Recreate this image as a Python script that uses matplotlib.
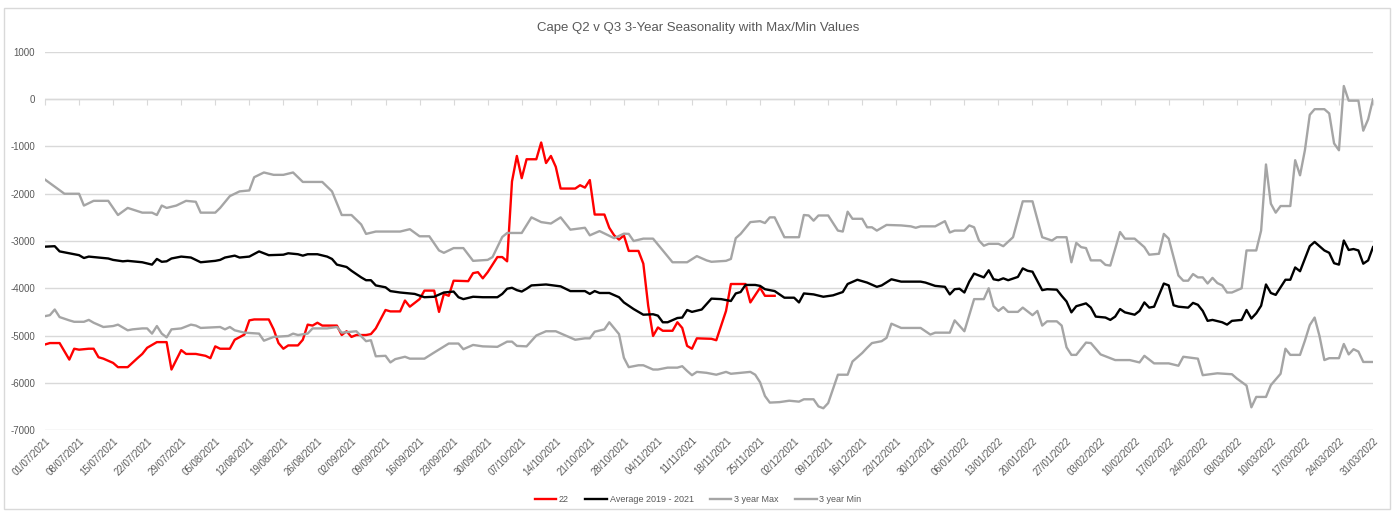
import numpy as np
import matplotlib
matplotlib.use("Agg")
import matplotlib.pyplot as plt
import matplotlib.dates as mdates
from matplotlib.patches import Rectangle

plt.rcParams['font.family'] = ['Liberation Sans', 'DejaVu Sans']
plt.rcParams['axes.unicode_minus'] = False

start = np.datetime64('2021-07-01')
end = np.datetime64('2022-03-31')

# values, x given as days after 01/07/2021
red_days = [0, 1, 3, 5, 6, 7, 9, 10, 11, 12, 14, 15, 17, 19, 20, 21, 23, 25, 26, 28,
            29, 31, 33, 34, 35, 36, 38, 39, 41, 42, 43, 46, 47, 48, 49, 50, 52, 53, 54, 55,
            56, 57, 60, 61, 62, 63, 64, 66, 67, 68, 70, 71, 73, 74, 75, 77, 78, 80, 81, 82,
            83, 84, 87, 88, 89, 90, 91, 93, 94, 95, 96, 97, 98, 99, 101, 102, 103, 104, 105, 106,
            109, 110, 111, 112, 113, 115, 116, 117, 118, 119, 120, 122, 123, 124, 125, 126, 127, 129, 130, 131,
            132, 133, 134, 137, 138, 140, 141, 144, 145, 147, 148, 150]
red_vals = [-5190, -5160, -5160, -5510, -5280, -5300, -5280, -5280, -5460, -5490, -5580, -5670, -5670, -5480, -5390, -5260, -5140, -5140, -5720, -5310,
            -5390, -5390, -5430, -5480, -5230, -5280, -5280, -5090, -4980, -4680, -4660, -4660, -4870, -5160, -5280, -5210, -5210, -5090, -4770, -4790,
            -4730, -4790, -4790, -4990, -4910, -5030, -4990, -4990, -4970, -4850, -4460, -4490, -4490, -4260, -4390, -4230, -4050, -4050, -4500, -4120,
            -4160, -3840, -3850, -3680, -3660, -3790, -3660, -3340, -3340, -3430, -1740, -1200, -1670, -1270, -1270, -915, -1350, -1200, -1430, -1890,
            -1890, -1820, -1870, -1710, -2440, -2440, -2720, -2880, -2970, -2880, -3210, -3210, -3480, -4370, -5010, -4830, -4900, -4900, -4720, -4840,
            -5220, -5280, -5060, -5070, -5100, -4480, -3910, -3910, -4300, -3990, -4160, -4160]

avg_days = [0, 2, 3, 5, 7, 8, 9, 13, 14, 16, 17, 20, 22, 23, 24, 25, 26, 28, 30, 32,
            35, 36, 37, 39, 40, 42, 44, 46, 49, 50, 52, 53, 54, 56, 58, 59, 60, 62, 63, 65,
            66, 67, 68, 70, 71, 73, 76, 78, 80, 82, 84, 85, 86, 88, 90, 93, 94, 95, 96, 97,
            98, 99, 100, 103, 106, 108, 111, 112, 113, 114, 116, 118, 119, 121, 123, 125, 126, 127, 128, 130,
            131, 132, 133, 135, 137, 139, 141, 142, 143, 144, 146, 147, 148, 150, 152, 154, 155, 156, 158, 160,
            162, 164, 165, 167, 169, 171, 172, 174, 176, 180, 181, 183, 185, 186, 187, 188, 189, 190, 191, 193,
            194, 195, 196, 197, 198, 200, 201, 202, 203, 205, 206, 208, 209, 210, 211, 212, 214, 215, 216, 218,
            219, 220, 221, 222, 224, 225, 226, 227, 228, 230, 231, 232, 233, 235, 236, 237, 238, 239, 240, 242,
            243, 244, 246, 247, 248, 249, 250, 251, 252, 253, 255, 256, 257, 258, 260, 261, 263, 264, 265, 266,
            267, 268, 269, 270, 271, 272, 273]
avg_vals = [-3120, -3110, -3220, -3260, -3300, -3360, -3330, -3370, -3400, -3430, -3420, -3450, -3500, -3380, -3440, -3430, -3370, -3330, -3350, -3450,
            -3420, -3400, -3350, -3310, -3350, -3330, -3220, -3300, -3290, -3260, -3280, -3310, -3280, -3280, -3330, -3380, -3500, -3550, -3630, -3770,
            -3830, -3830, -3940, -3980, -4060, -4090, -4120, -4190, -4180, -4090, -4070, -4190, -4230, -4180, -4190, -4190, -4120, -4010, -3990, -4040,
            -4070, -4010, -3940, -3920, -3960, -4060, -4060, -4120, -4060, -4100, -4100, -4190, -4300, -4440, -4560, -4550, -4580, -4720, -4720, -4630,
            -4620, -4460, -4500, -4450, -4220, -4230, -4270, -4110, -4080, -3930, -3930, -3950, -4020, -4060, -4200, -4200, -4300, -4110, -4130, -4180,
            -4150, -4080, -3910, -3820, -3880, -3970, -3940, -3810, -3860, -3860, -3880, -3950, -3970, -4130, -4020, -4010, -4090, -3860, -3690, -3770,
            -3620, -3810, -3830, -3790, -3830, -3760, -3580, -3630, -3650, -4040, -4020, -4030, -4160, -4280, -4510, -4380, -4320, -4410, -4600, -4620,
            -4670, -4600, -4440, -4510, -4560, -4480, -4300, -4410, -4390, -3900, -3940, -4360, -4390, -4410, -4310, -4350, -4480, -4690, -4670, -4720,
            -4770, -4690, -4670, -4460, -4640, -4530, -4370, -3920, -4100, -4140, -3820, -3820, -3560, -3640, -3110, -3020, -3200, -3250, -3470, -3500,
            -2990, -3190, -3170, -3200, -3480, -3410, -3130]

max_days = [0, 2, 4, 7, 8, 10, 13, 15, 17, 20, 22, 23, 24, 25, 27, 29, 31, 32, 35, 36,
            38, 40, 42, 43, 45, 47, 49, 51, 53, 57, 59, 61, 63, 65, 66, 68, 73, 75, 77, 79,
            81, 82, 84, 86, 88, 91, 92, 94, 95, 98, 100, 102, 104, 106, 108, 111, 112, 114, 117, 119,
            120, 121, 123, 125, 129, 132, 134, 136, 137, 140, 141, 142, 143, 145, 147, 148, 149, 150, 152, 155,
            156, 157, 158, 159, 161, 163, 164, 165, 166, 168, 169, 170, 171, 173, 176, 178, 179, 180, 183, 185,
            186, 187, 189, 190, 191, 192, 193, 194, 196, 197, 199, 201, 203, 205, 207, 208, 210, 211, 212, 213,
            214, 215, 217, 218, 219, 221, 222, 224, 226, 227, 229, 230, 231, 233, 234, 235, 236, 237, 238, 239,
            240, 241, 242, 243, 244, 246, 247, 249, 250, 251, 252, 253, 254, 256, 257, 258, 259, 260, 261, 263,
            264, 265, 266, 267, 268, 270, 271, 272, 273]
max_vals = [-1700, -1850, -2000, -2000, -2250, -2150, -2150, -2450, -2300, -2400, -2400, -2450, -2250, -2300, -2250, -2150, -2170, -2400, -2400, -2300,
            -2050, -1950, -1930, -1650, -1550, -1600, -1600, -1550, -1750, -1750, -1950, -2450, -2450, -2650, -2850, -2800, -2800, -2750, -2900, -2900,
            -3200, -3250, -3150, -3150, -3420, -3400, -3340, -2915, -2830, -2830, -2500, -2600, -2630, -2500, -2760, -2720, -2880, -2790, -2940, -2845,
            -2850, -3000, -2950, -2950, -3450, -3450, -3320, -3410, -3440, -3420, -3380, -2940, -2850, -2600, -2580, -2620, -2500, -2500, -2920, -2920,
            -2450, -2460, -2570, -2460, -2460, -2780, -2800, -2380, -2530, -2530, -2710, -2710, -2780, -2660, -2670, -2690, -2720, -2690, -2690, -2580,
            -2820, -2780, -2780, -2670, -2710, -2990, -3100, -3060, -3060, -3110, -2920, -2160, -2160, -2920, -2990, -2920, -2920, -3450, -3040, -3130,
            -3150, -3410, -3410, -3505, -3520, -2810, -2950, -2950, -3130, -3290, -3270, -2850, -2950, -3730, -3840, -3840, -3700, -3770, -3770, -3900,
            -3780, -3890, -3940, -4090, -4090, -4000, -3200, -3200, -2780, -1380, -2210, -2400, -2260, -2260, -1290, -1610, -1080, -330, -210, -210,
            -300, -935, -1080, 280, -30, -30, -665, -425, 0]

min_days = [0, 1, 2, 3, 5, 6, 8, 9, 10, 12, 14, 15, 17, 18, 20, 21, 22, 23, 24, 25,
            26, 28, 30, 31, 32, 36, 37, 38, 39, 41, 44, 45, 47, 50, 51, 52, 54, 55, 58, 60,
            61, 64, 66, 67, 68, 70, 71, 72, 74, 75, 78, 80, 83, 85, 86, 88, 90, 93, 95, 96,
            97, 99, 101, 103, 105, 107, 109, 111, 112, 113, 115, 116, 118, 119, 120, 122, 123, 125, 126, 128,
            130, 131, 132, 133, 134, 136, 138, 140, 141, 145, 146, 147, 148, 149, 151, 153, 155, 156, 158, 159,
            160, 161, 163, 165, 166, 168, 169, 170, 172, 173, 174, 176, 180, 182, 183, 186, 187, 189, 191, 193,
            194, 195, 196, 197, 198, 200, 201, 203, 204, 205, 206, 208, 209, 210, 211, 212, 214, 215, 217, 220,
            223, 225, 226, 228, 231, 233, 234, 237, 238, 241, 244, 245, 247, 248, 249, 251, 252, 254, 255, 256,
            258, 259, 260, 261, 262, 263, 264, 266, 267, 268, 269, 270, 271, 273]
min_vals = [-4590, -4570, -4450, -4610, -4680, -4710, -4710, -4670, -4730, -4820, -4800, -4770, -4890, -4870, -4850, -4850, -4960, -4800, -4960, -5040,
            -4870, -4850, -4770, -4790, -4840, -4820, -4870, -4820, -4890, -4940, -4960, -5110, -5030, -5010, -4960, -4990, -4960, -4850, -4850, -4820,
            -4940, -4910, -5120, -5100, -5440, -5430, -5570, -5500, -5450, -5490, -5490, -5360, -5170, -5170, -5290, -5200, -5230, -5240, -5130, -5130,
            -5220, -5230, -5000, -4910, -4910, -5000, -5090, -5060, -5060, -4920, -4870, -4720, -4970, -5470, -5670, -5630, -5630, -5720, -5720, -5680,
            -5680, -5650, -5750, -5840, -5770, -5790, -5830, -5770, -5810, -5770, -5830, -5990, -6280, -6420, -6410, -6380, -6400, -6350, -6350, -6500,
            -6540, -6430, -5830, -5830, -5550, -5370, -5260, -5160, -5120, -5050, -4750, -4840, -4840, -4980, -4940, -4940, -4680, -4910, -4230, -4230,
            -4000, -4380, -4480, -4400, -4500, -4500, -4410, -4570, -4480, -4790, -4700, -4700, -4790, -5250, -5410, -5410, -5150, -5160, -5400, -5520,
            -5520, -5570, -5430, -5590, -5590, -5640, -5450, -5490, -5840, -5800, -5820, -5910, -6060, -6520, -6300, -6300, -6050, -5810, -5280, -5410,
            -5410, -5110, -4780, -4620, -5010, -5520, -5480, -5480, -5180, -5400, -5290, -5340, -5560, -5560]

labels = ['22', 'Average 2019 - 2021', '3 year Max', '3 year Min']
y_ticks = [1000, 0, -1000, -2000, -3000, -4000, -5000, -6000, -7000]

def to_dates(days):
    return start + np.array(days).astype('timedelta64[D]')

txt = '#595959'
grid = '#d9d9d9'
grey = '#a5a5a5'

fig = plt.figure(figsize=(13.96, 5.15), dpi=100)
ax = fig.add_axes([45/1396, 1 - 430/515, 1328/1396, 378/515])

ax.plot(to_dates(red_days), red_vals, color='#ff0000', lw=1.7, label=labels[0])
ax.plot(to_dates(avg_days), avg_vals, color='black', lw=1.7, label=labels[1])
ax.plot(to_dates(max_days), max_vals, color=grey, lw=1.7, label=labels[2])
ax.plot(to_dates(min_days), min_vals, color=grey, lw=1.7, label=labels[3])

ax.set_xlim(start, end)
ax.set_ylim(-7000, 1000)
ax.set_yticks(y_ticks)
ax.yaxis.grid(True, color=grid, lw=1)
ax.set_axisbelow(True)
for s in ax.spines.values():
    s.set_visible(False)
ax.tick_params(axis='y', length=0, labelsize=7, labelcolor=txt, pad=7)

ticks = np.arange(start, end + np.timedelta64(1, 'D'), np.timedelta64(7, 'D'))
ax.set_xticks(ticks)
ax.xaxis.set_major_formatter(mdates.DateFormatter('%d/%m/%Y'))
ax.tick_params(axis='x', length=0, labelsize=7, labelcolor=txt, pad=4)
for lab in ax.get_xticklabels():
    lab.set_rotation(45)
    lab.set_ha('right')
    lab.set_rotation_mode('anchor')

# horizontal axis line crosses at zero, with tick marks
ax.axhline(0, color=grid, lw=1, zorder=1)
sec = ax.secondary_xaxis(7/8)
sec.set_xticks(ticks)
sec.tick_params(axis='x', direction='out', length=4, color=grid, labelbottom=False, labeltop=False)
sec.spines['bottom'].set_visible(False)
sec.spines['top'].set_visible(False)
sec.xaxis.set_ticks_position('bottom')
sec.set_xticklabels([])

fig.text(0.5, 1 - 28/515, 'Cape Q2 v Q3 3-Year Seasonality with Max/Min Values',
         ha='center', va='center', fontsize=9.5, color=txt)

fig.legend(loc='center', bbox_to_anchor=(0.5, 1 - 500/515), ncol=4, frameon=False,
           fontsize=6.5, labelcolor=txt, handlelength=2.4, handletextpad=0.3, columnspacing=1.8)

fig.patches.append(Rectangle((0.003, 0.012), 0.993, 0.973, transform=fig.transFigure,
                             fill=False, ec=grid, lw=1))

fig.savefig('out.png', dpi=100)
